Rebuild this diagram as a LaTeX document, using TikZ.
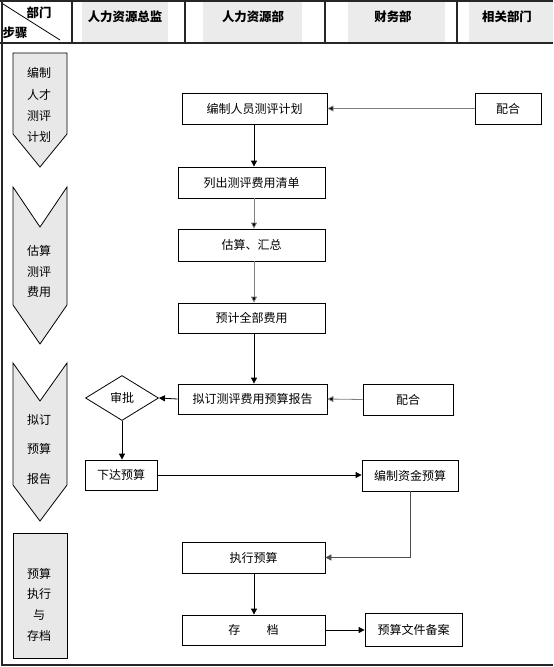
\documentclass[tikz,border=0pt]{standalone}
\usepackage{fontspec}
\setmainfont{Noto Sans CJK SC}
\usetikzlibrary{arrows.meta,shapes.geometric}
\definecolor{cellgray}{HTML}{EBEBEB}
\definecolor{lanegray}{HTML}{E8E8E8}
\definecolor{lightline}{HTML}{7F7F7F}
\tikzset{
  txt/.style={font=\fontsize{9}{10}\selectfont, inner sep=0pt},
  hdr/.style={font=\fontsize{9.3}{10}\selectfont\bfseries, inner sep=0pt},
  bx/.style 2 args={minimum width=#1*0.75pt, minimum height=#2*0.75pt},
  box/.style={draw, fill=white, line width=0.6pt, inner sep=0pt, font=\fontsize{9}{10}\selectfont},
  lane/.style={draw, fill=lanegray, line width=0.6pt},
  frameline/.style={draw=black!85, line width=0.9pt},
  arr/.style={line width=0.6pt, -{Triangle[length=4.5pt,width=4.5pt]}},
  garr/.style={arr, draw=lightline, -{Triangle[length=4.5pt,width=4.5pt,fill=black]}}
}
\begin{document}
\begin{tikzpicture}[x=0.75pt,y=-0.75pt]
\useasboundingbox (0,0) rectangle (553,667);
% header cells
\fill[cellgray] (82,2) rectangle (168,42);
\fill[cellgray] (203,2) rectangle (302,42);
\fill[cellgray] (348,2) rectangle (445,42);
\fill[cellgray] (469,2) rectangle (553,42);
% frame
\draw[frameline] (0,1) -- (553,1);
\draw[frameline] (0,43) -- (553,43);
\draw[frameline] (2,1) -- (2,665) -- (553,665);
\foreach \xx in {72,185,325,457} \draw[frameline] (\xx,1) -- (\xx,43);
\draw[line width=0.6pt] (3,4) -- (60,40);
\node[hdr] (hbm) at (39,13) {部门};
\node[hdr] (hbz) at (15,33) {步骤};
\node[hdr] (h1) at (125,17) {人力资源总监};
\node[hdr] (h2) at (253,17) {人力资源部};
\node[hdr] (h3) at (393,17) {财务部};
\node[hdr] (h4) at (507,17) {相关部门};
% lanes
\draw[lane] (13,53) -- (67,53) -- (67,134) -- (40,167) -- (13,134) -- cycle;
\draw[lane] (13,187) -- (40,227) -- (67,187) -- (67,305) -- (40,344) -- (13,305) -- cycle;
\draw[lane] (13,363) -- (40,401) -- (67,363) -- (67,485) -- (40,521) -- (13,485) -- cycle;
\draw[lane] (13,533) rectangle (67,658);
\node[txt] (l1a) at (39,73) {编制};
\node[txt] (l1b) at (39,95) {人才};
\node[txt] (l1c) at (39,116) {测评};
\node[txt] (l1d) at (39,137) {计划};
\node[txt] (l2a) at (39,251) {估算};
\node[txt] (l2b) at (39,272) {测评};
\node[txt] (l2c) at (39,292) {费用};
\node[txt] (l3a) at (39,420) {拟订};
\node[txt] (l3b) at (39,449) {预算};
\node[txt] (l3c) at (39,479) {报告};
\node[txt] (l4a) at (39,574) {预算};
\node[txt] (l4b) at (39,594) {执行};
\node[txt] (l4c) at (39,615) {与};
\node[txt] (l4d) at (39,636) {存档};
% boxes
\node[box, bx={145}{31}] (plan) at (254.5,108.5) {编制人员测评计划};
\node[box, bx={66}{31}] (pei1) at (508,108.5) {配合};
\node[box, bx={147}{31}] (list) at (251.5,182.5) {列出测评费用清单};
\node[box, bx={147}{32}] (est) at (251.5,245) {估算、汇总};
\node[box, bx={147}{30}] (total) at (251.5,318) {预计全部费用};
\node[box, bx={149}{30}] (draft) at (252.5,399) {拟订测评费用预算报告};
\node[box, bx={90}{31}] (pei2) at (408,399.5) {配合};
\node[box, diamond, minimum width=73*0.75pt, minimum height=45*0.75pt] (dia) at (122,398) {审批};
\node[box, bx={72}{30}] (issue) at (121,475) {下达预算};
\node[box, bx={96}{31}] (fund) at (410,475.5) {编制资金预算};
\node[box, bx={143}{31}] (exec) at (253.5,557.5) {执行预算};
\node[box, bx={143}{30}] (arch) at (253.5,630) {存\hspace{2.2em}档};
\node[box, bx={97}{33}] (rec) at (413.5,629.5) {预算文件备案};
% connectors
\coordinate (vx) at (254,0);
\draw[garr] (pei1.west) -- (plan.east);
\draw[arr] (vx |- plan.south) -- (vx |- list.north);
\draw[garr] (vx |- list.south) -- (vx |- est.north);
\draw[garr] (vx |- est.south) -- (vx |- total.north);
\draw[arr] (vx |- total.south) -- (vx |- draft.north);
\draw[garr] (pei2.west) -- (draft.east);
\draw[arr] (draft.west) -- (dia.east);
\draw[arr] (dia.south) -- (issue.north -| dia.south);
\draw[arr] (issue.east) -- (fund.west |- issue.east);
\draw[arr, draw=black!70] (fund.south) |- (exec.east);
\draw[arr] (vx |- exec.south) -- (vx |- arch.north);
\draw[arr] (arch.east) -- (rec.west |- arch.east);
\end{tikzpicture}
\end{document}
